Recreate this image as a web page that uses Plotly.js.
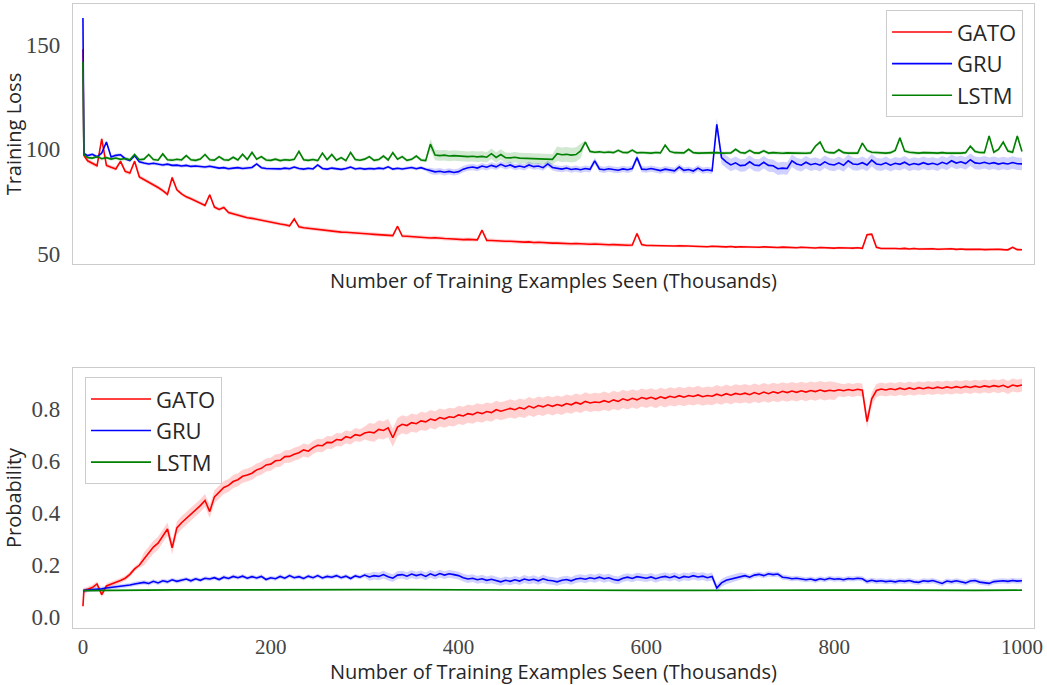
<!DOCTYPE html>
<html>
<head>
<meta charset="utf-8">
<script src="https://cdn.plot.ly/plotly-3.0.1.min.js"></script>
<style>html,body{margin:0;padding:0;background:#fff;}#chart{width:1047px;height:685px;}</style>
</head>
<body>
<div id="chart"></div>
<script>
// Sampling grid (thousands of training examples): 0, 1, then every 5
const xGrid = [0, 1];
for (let v = 5; v <= 1000; v += 5) xGrid.push(v);

const seriesNames = ["GATO", "GRU", "LSTM"];
const seriesColors = ["#ff0000", "#0000ff", "#008000"];
const bandColors = ["rgba(255,0,0,0.18)", "rgba(0,0,255,0.18)", "rgba(0,128,0,0.18)"];

// ---- Training loss (top panel) ----
const gatoLoss = [148, 97,
  94.5, 93.2, 92.1, 105, 92.3, 91.4, 90.6, 94.2, 89.4, 88.6,
  94.3, 86.8, 85.6, 84.3, 83.1, 81.7, 80.2, 78.4, 86.5, 80.6,
  78.6, 77.2, 76.3, 75.1, 74.2, 73.1, 78.2, 72.3, 71.2, 72.1,
  69.7, 69.1, 68.3, 67.9, 67.2, 66.9, 66.4, 66.1, 65.5, 65.1,
  64.6, 64.2, 63.8, 63.3, 66.6, 62.8, 62.4, 62.1, 61.8, 61.6,
  61.2, 61.1, 60.7, 60.6, 60.3, 60.2, 60.1, 59.8, 59.7, 59.5,
  59.4, 59.2, 59.1, 58.9, 58.8, 58.6, 63.1, 58.4, 58.3, 58.1,
  58.0, 57.8, 57.7, 57.5, 57.6, 57.3, 57.2, 57.1, 56.9, 56.9,
  56.7, 56.8, 56.6, 56.6, 61.2, 56.3, 56.3, 56.1, 56.1, 55.9,
  55.9, 55.7, 55.7, 55.5, 55.6, 55.3, 55.4, 55.2, 55.2, 55.0,
  55.0, 54.8, 54.9, 54.7, 54.8, 54.6, 54.6, 54.5, 54.6, 54.4,
  54.4, 54.2, 54.3, 54.1, 54.2, 54.0, 54.1, 59.6, 54.3, 53.9,
  53.9, 53.8, 53.9, 53.7, 53.8, 53.6, 53.7, 53.5, 53.6, 53.5,
  53.4, 53.6, 53.3, 53.5, 53.3, 53.4, 53.2, 53.4, 53.1, 53.3,
  53.2, 53.1, 53.3, 53.0, 53.2, 53.0, 53.1, 52.9, 53.1, 52.9,
  53.0, 52.8, 53.0, 52.8, 52.9, 52.7, 52.9, 52.7, 52.8, 52.6,
  52.8, 52.6, 52.7, 52.6, 52.8, 52.5, 59.0, 59.3, 53.0, 52.4,
  52.5, 52.3, 52.4, 52.3, 52.5, 52.2, 52.4, 52.2, 52.3, 52.2,
  52.3, 52.1, 52.2, 52.1, 52.3, 52.0, 52.2, 52.0, 52.1, 52.0,
  52.1, 51.9, 52.0, 51.9, 52.1, 51.9, 51.8, 53.0, 51.9, 51.8];

const gruLoss = [163, 98,
  97.0, 97.6, 96.4, 98.2, 103.5, 96.3, 97.1, 97.4, 95.5, 94.6,
  97.0, 94.0, 93.4, 93.0, 93.3, 92.8, 92.5, 92.9, 92.3, 92.4,
  92.0, 92.3, 91.8, 92.0, 91.6, 91.5, 91.9, 91.3, 91.0, 91.2,
  90.7, 91.0, 91.2, 90.8, 91.0, 91.3, 93.0, 91.2, 90.8, 90.7,
  90.9, 90.6, 91.0, 90.7, 91.5, 90.8, 90.5, 90.9, 90.6, 92.5,
  90.8, 90.5, 91.0, 90.7, 90.4, 90.8, 91.5, 90.6, 90.9, 90.5,
  90.8, 90.6, 91.0, 90.7, 91.6, 90.5, 90.9, 90.6, 90.8, 91.3,
  90.7, 91.2, 90.4, 89.7, 89.2, 89.5, 89.0, 89.4, 88.9, 89.3,
  90.5, 91.2, 91.5, 91.0, 92.0, 91.4, 92.3, 91.6, 92.8, 91.8,
  92.5, 91.5, 92.0, 91.4, 92.5, 91.7, 92.0, 91.2, 93.0, 91.3,
  90.8, 90.5, 91.0, 90.3, 90.7, 90.2, 90.8, 90.4, 94.5, 90.6,
  90.2, 90.7, 90.3, 90.0, 90.6, 90.2, 90.8, 96.0, 90.5, 90.3,
  90.8, 90.2, 89.8, 90.5, 90.1, 89.7, 91.5, 89.9, 90.3, 89.6,
  91.0, 89.8, 90.2, 89.7, 112.0, 96.0, 94.0, 92.5, 93.5, 92.2,
  92.4, 94.0, 92.5, 92.2, 93.8, 92.3, 92.1, 90.7, 91.0, 90.8,
  94.5, 93.0, 92.4, 93.8, 92.6, 93.2, 92.4, 94.0, 92.8, 92.5,
  93.5, 92.3, 94.5, 93.0, 92.7, 93.6, 92.5, 94.8, 93.0, 92.6,
  93.5, 92.4, 93.3, 92.8, 93.8, 92.5, 93.2, 92.7, 93.6, 92.8,
  93.3, 92.6, 93.8, 93.0, 94.5, 93.4, 94.0, 93.2, 95.0, 93.5,
  93.2, 93.8, 93.1, 93.6, 92.9, 93.4, 93.0, 93.7, 93.1, 93.0];

const lstmLoss = [142, 97.5,
  96.0, 95.8, 96.5, 95.5, 96.0, 95.3, 95.8, 95.2, 95.6, 95.0,
  97.5, 95.0, 95.3, 97.5, 95.1, 94.8, 97.8, 95.0, 94.8, 95.2,
  94.9, 97.0, 95.0, 94.7, 95.3, 97.5, 95.0, 94.8, 96.5, 95.0,
  94.8, 96.2, 94.9, 97.6, 95.1, 98.5, 95.3, 96.5, 94.9, 94.7,
  95.3, 94.6, 95.0, 94.8, 95.2, 99.0, 95.0, 94.7, 95.1, 94.6,
  98.2, 95.0, 97.5, 94.8, 96.0, 94.6, 98.5, 95.1, 94.8, 95.3,
  96.5, 94.7, 95.1, 96.8, 94.9, 98.4, 95.3, 96.5, 94.7, 95.2,
  96.8, 94.9, 94.6, 102.5, 97.3, 97.0, 97.2, 96.8, 97.0, 96.8,
  96.9, 96.5, 96.7, 96.4, 96.6, 96.2, 97.9, 96.1, 97.5, 96.0,
  95.9, 96.2, 95.8, 95.7, 95.9, 95.5, 95.7, 95.4, 95.5, 95.2,
  97.9, 97.4, 97.6, 97.2, 97.5, 99.2, 103.5, 99.0, 98.6, 98.8,
  98.5, 98.7, 98.4, 99.5, 98.5, 98.4, 99.6, 98.3, 98.5, 98.4,
  98.2, 98.5, 98.3, 102.0, 99.0, 98.4, 98.2, 98.3, 100.0, 98.4,
  98.2, 98.3, 98.1, 98.2, 98.4, 98.2, 98.1, 98.3, 100.0, 98.5,
  98.2, 99.5, 98.3, 98.2, 99.3, 98.2, 98.4, 98.2, 98.1, 98.3,
  98.2, 98.4, 98.2, 98.1, 98.3, 101.5, 103.5, 99.0, 98.4, 98.3,
  99.8, 98.4, 98.2, 98.3, 98.2, 103.0, 99.5, 98.6, 98.4, 98.3,
  98.2, 98.4, 99.5, 105.5, 99.2, 98.6, 98.3, 98.2, 98.4, 98.2,
  98.3, 98.2, 98.4, 98.2, 98.1, 98.3, 98.2, 98.4, 101.5, 99.0,
  98.5, 98.4, 106.4, 98.6, 100.0, 103.5, 99.2, 98.6, 106.4, 99.0];

// ---- Probability (bottom panel) ----
const gatoProb = [0.04, 0.10,
  0.105, 0.112, 0.126, 0.085, 0.118, 0.124, 0.131, 0.139, 0.148, 0.163,
  0.184, 0.198, 0.222, 0.244, 0.268, 0.283, 0.312, 0.338, 0.265, 0.342,
  0.362, 0.378, 0.396, 0.41, 0.428, 0.448, 0.405, 0.462, 0.482, 0.498,
  0.506, 0.521, 0.528, 0.541, 0.546, 0.553, 0.566, 0.572, 0.585, 0.588,
  0.601, 0.603, 0.617, 0.618, 0.626, 0.632, 0.643, 0.638, 0.652, 0.661,
  0.659, 0.672, 0.671, 0.683, 0.681, 0.694, 0.689, 0.702, 0.698, 0.708,
  0.712, 0.709, 0.722, 0.718, 0.728, 0.69, 0.731, 0.742, 0.737, 0.748,
  0.744, 0.755, 0.751, 0.762, 0.757, 0.768, 0.763, 0.771, 0.768, 0.778,
  0.774, 0.783, 0.779, 0.788, 0.783, 0.791, 0.787, 0.798, 0.792, 0.797,
  0.803, 0.798, 0.806, 0.801, 0.812, 0.805, 0.814, 0.809, 0.817, 0.811,
  0.818, 0.813, 0.822, 0.817, 0.826, 0.82, 0.83, 0.824, 0.828, 0.826,
  0.833, 0.827, 0.836, 0.83, 0.84, 0.834, 0.842, 0.836, 0.845, 0.84,
  0.846, 0.839, 0.848, 0.842, 0.85, 0.845, 0.852, 0.846, 0.853, 0.849,
  0.855, 0.848, 0.853, 0.85, 0.858, 0.852, 0.86, 0.854, 0.861, 0.857,
  0.862, 0.856, 0.864, 0.858, 0.866, 0.86, 0.867, 0.862, 0.869, 0.864,
  0.87, 0.865, 0.871, 0.866, 0.872, 0.868, 0.874, 0.869, 0.873, 0.87,
  0.875, 0.871, 0.876, 0.872, 0.877, 0.873, 0.752, 0.84, 0.872, 0.878,
  0.874, 0.879, 0.875, 0.881, 0.876, 0.882, 0.877, 0.883, 0.879, 0.884,
  0.88, 0.885, 0.881, 0.886, 0.882, 0.887, 0.883, 0.888, 0.884, 0.889,
  0.885, 0.89, 0.886, 0.891, 0.887, 0.892, 0.884, 0.893, 0.889, 0.893];

const gruProb = [0.10, 0.10,
  0.102, 0.104, 0.105, 0.107, 0.11, 0.112, 0.115, 0.118, 0.12, 0.122,
  0.126, 0.128, 0.132, 0.128, 0.136, 0.13, 0.138, 0.134, 0.142, 0.136,
  0.14, 0.145, 0.138, 0.146, 0.14, 0.148, 0.145, 0.15, 0.143, 0.152,
  0.147, 0.155, 0.15, 0.156, 0.148, 0.154, 0.149, 0.155, 0.143, 0.15,
  0.146, 0.155, 0.148, 0.158, 0.15, 0.154, 0.147, 0.156, 0.15, 0.158,
  0.149, 0.155, 0.152, 0.158, 0.15, 0.156, 0.147, 0.157, 0.152, 0.16,
  0.153, 0.158, 0.155, 0.162, 0.154, 0.148, 0.16, 0.162, 0.156, 0.164,
  0.158, 0.163, 0.155, 0.165, 0.158, 0.166, 0.16, 0.165, 0.162, 0.158,
  0.15, 0.145, 0.148, 0.142, 0.146, 0.14, 0.144, 0.138, 0.134, 0.14,
  0.136, 0.142, 0.137, 0.145, 0.14, 0.144, 0.138, 0.146, 0.14, 0.138,
  0.134, 0.14, 0.143, 0.138, 0.145, 0.148, 0.144, 0.15, 0.146, 0.152,
  0.146, 0.15, 0.143, 0.14, 0.148, 0.152, 0.147, 0.154, 0.15, 0.148,
  0.153, 0.146, 0.152, 0.155, 0.15, 0.156, 0.148, 0.155, 0.152, 0.158,
  0.153, 0.156, 0.15, 0.155, 0.11, 0.13, 0.14, 0.145, 0.15, 0.155,
  0.158, 0.152, 0.16, 0.163, 0.158, 0.165, 0.162, 0.164, 0.152, 0.15,
  0.146, 0.148, 0.144, 0.142, 0.145, 0.14, 0.146, 0.142, 0.148, 0.144,
  0.146, 0.142, 0.147, 0.145, 0.148, 0.146, 0.135, 0.14, 0.136, 0.138,
  0.135, 0.137, 0.134, 0.138, 0.136, 0.139, 0.134, 0.132, 0.138, 0.136,
  0.139, 0.133, 0.128, 0.137, 0.134, 0.138, 0.133, 0.13, 0.137, 0.139,
  0.133, 0.131, 0.128, 0.135, 0.137, 0.138, 0.136, 0.139, 0.137, 0.138];

const lstmProbX = [0, 50, 100, 150, 200, 250, 300, 350, 400, 450, 500, 550, 600, 650, 700, 750, 800, 850, 900, 950, 1000];
const lstmProb = [0.100, 0.102, 0.103, 0.103, 0.104, 0.103, 0.104, 0.104, 0.103, 0.103, 0.102, 0.102, 0.101, 0.101, 0.102, 0.102, 0.102, 0.102, 0.101, 0.101, 0.102];

// Band half-widths read per segment: [from, to, half-width]
const gatoLossBand = [[0, 100, 1.0], [100, 600, 0.9], [600, 1000, 0.6]];
const gruLossBand = [[0, 370, 0.8], [370, 670, 1.5], [671, 1000, 3.0]];
const lstmLossBand = [[0, 365, 0.8], [366, 500, 2.5], [501, 530, 3.5], [531, 1000, 0.8]];
const gatoProbBand = [[0, 60, 0.01], [61, 300, 0.025], [301, 800, 0.035], [801, 1000, 0.025]];
const gruProbBand = [[0, 300, 0.008], [301, 700, 0.015], [701, 1000, 0.01]];
const lstmProbBand = [[0, 1000, 0.002]];

function edge(xs, ys, segs, sign) {
  return ys.map((v, i) => {
    let w = 0;
    for (const s of segs) if (xs[i] >= s[0] && xs[i] <= s[1]) w = s[2];
    return v + sign * w;
  });
}

const traces = [];
function addBand(xs, ys, segs, k, xa, ya, lg) {
  traces.push({x: xs, y: edge(xs, ys, segs, 1), xaxis: xa, yaxis: ya, mode: 'lines', legend: lg,
    line: {width: 0, color: bandColors[k]}, showlegend: false, hoverinfo: 'skip'});
  traces.push({x: xs, y: edge(xs, ys, segs, -1), xaxis: xa, yaxis: ya, mode: 'lines', fill: 'tonexty', legend: lg,
    fillcolor: bandColors[k], line: {width: 0, color: bandColors[k]}, showlegend: false, hoverinfo: 'skip'});
}
addBand(xGrid, gatoLoss, gatoLossBand, 0, 'x', 'y', 'legend');
addBand(xGrid, gruLoss, gruLossBand, 1, 'x', 'y', 'legend');
addBand(xGrid, lstmLoss, lstmLossBand, 2, 'x', 'y', 'legend');
addBand(xGrid, gatoProb, gatoProbBand, 0, 'x2', 'y2', 'legend2');
addBand(xGrid, gruProb, gruProbBand, 1, 'x2', 'y2', 'legend2');
addBand(lstmProbX, lstmProb, lstmProbBand, 2, 'x2', 'y2', 'legend2');

const lossSeries = [gatoLoss, gruLoss, lstmLoss];
lossSeries.forEach((ys, k) => traces.push({x: xGrid, y: ys, xaxis: 'x', yaxis: 'y', mode: 'lines',
  name: seriesNames[k], line: {color: seriesColors[k], width: 1.6}, legend: 'legend'}));
const probX = [xGrid, xGrid, lstmProbX];
const probSeries = [gatoProb, gruProb, lstmProb];
probSeries.forEach((ys, k) => traces.push({x: probX[k], y: ys, xaxis: 'x2', yaxis: 'y2', mode: 'lines',
  name: seriesNames[k], line: {color: seriesColors[k], width: 1.6}, legend: 'legend2'}));

const sans = 'Open Sans, Noto Sans, sans-serif';
const serif = 'Liberation Serif, DejaVu Serif, serif';
const axisTitle = 'Number of Training Examples Seen (Thousands)';
const frame = {showline: true, mirror: true, linecolor: '#cccccc', linewidth: 1.2, showgrid: false, zeroline: false,
  ticks: 'outside', tickcolor: 'rgba(0,0,0,0)', tickfont: {family: serif, size: 23, color: '#444'}};
const titleFont = {family: sans, size: 20, color: '#262626'};
const legendFont = {family: sans, size: 22, color: '#262626'};

const layout = {
  width: 1047, height: 685,
  margin: {l: 73, r: 13, t: 4, b: 57},
  paper_bgcolor: '#ffffff', plot_bgcolor: '#ffffff',
  xaxis: Object.assign({}, frame, {domain: [0, 1], anchor: 'y', range: [-10.6, 1012.8], showticklabels: false, ticklen: 0,
    title: {text: axisTitle, font: titleFont, standoff: 9}}),
  yaxis: Object.assign({}, frame, {domain: [0.583, 1], anchor: 'x', range: [44.9, 169.7], tickvals: [50, 100, 150], ticklen: 7,
    title: {text: 'Training Loss', font: titleFont, standoff: 6}}),
  xaxis2: Object.assign({}, frame, {domain: [0, 1], anchor: 'y2', range: [-10.6, 1012.8], ticklen: 0,
    tickvals: [0, 200, 400, 600, 800, 1000], tickfont: {family: serif, size: 21, color: '#444'},
    title: {text: axisTitle, font: titleFont, standoff: 1}}),
  yaxis2: Object.assign({}, frame, {domain: [0, 0.4167], anchor: 'x2', range: [-0.044, 0.959], ticklen: 7,
    tickvals: [0, 0.2, 0.4, 0.6, 0.8], ticktext: ['0.0', '0.2', '0.4', '0.6', '0.8'],
    title: {text: 'Probability', font: titleFont, standoff: 4}}),
  legend: {x: 0.9886, xanchor: 'right', y: 0.99, yanchor: 'top', bgcolor: 'rgba(255,255,255,0.85)', traceorder: 'normal',
    itemwidth: 60, bordercolor: '#cccccc', borderwidth: 1, font: legendFont},
  legend2: {x: 0.0125, xanchor: 'left', y: 0.402, yanchor: 'top', bgcolor: 'rgba(255,255,255,0.85)', traceorder: 'normal',
    itemwidth: 60, bordercolor: '#cccccc', borderwidth: 1, font: legendFont},
  showlegend: true
};

Plotly.newPlot('chart', traces, layout, {displayModeBar: false, staticPlot: true});
</script>
</body>
</html>
